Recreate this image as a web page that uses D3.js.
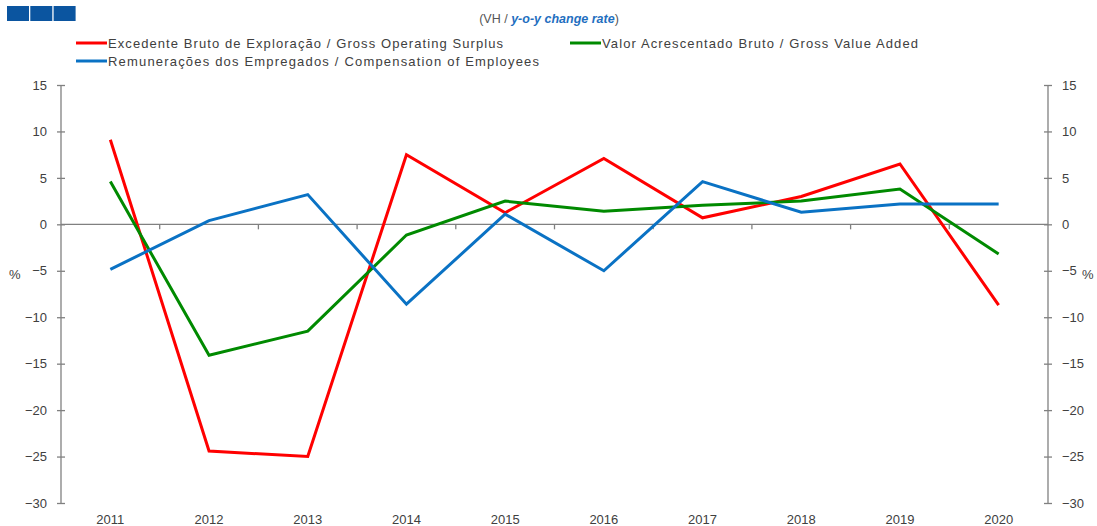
<!DOCTYPE html>
<html>
<head>
<meta charset="utf-8">
<script src="https://cdn.jsdelivr.net/npm/d3@7"></script>
<style>
  html, body { margin: 0; padding: 0; background: #fff; }
  svg { display: block; font-family: "Liberation Sans", Arial, sans-serif; }
</style>
</head>
<body>
<svg id="chart" width="1097" height="526"></svg>
<script>
const years = ["2011","2012","2013","2014","2015","2016","2017","2018","2019","2020"];
const surplus = [9.1, -24.4, -25.0, 7.5, 1.25, 7.1, 0.7, 3.0, 6.5, -8.7];
const gva = [4.6, -14.1, -11.5, -1.15, 2.5, 1.4, 2.05, 2.5, 3.8, -3.2];
const compensation = [-4.85, 0.4, 3.2, -8.6, 1.1, -5.0, 4.6, 1.3, 2.2, 2.2];
const yTicks = [15, 10, 5, 0, -5, -10, -15, -20, -25, -30];
const seriesNames = [
  "Excedente Bruto de Exploração / Gross Operating Surplus",
  "Valor Acrescentado Bruto / Gross Value Added",
  "Remunerações dos Empregados / Compensation of Employees"
];

(function () {
const svg = d3.select("#chart");
const mLeft = 61, mRight = 1048, mTop = 85, mBottom = 503;
const axisColor = "#808080", textColor = "#404040";

const x = d3.scaleBand().domain(years).range([mLeft, mRight]).padding(0);
const y = d3.scaleLinear().domain([-30, 15]).range([mBottom, mTop]);

// header squares
svg.append("g").selectAll("rect").data([0,1,2]).join("rect")
  .attr("x", d => 7 + d * 23.3).attr("y", 6).attr("width", 22).attr("height", 15)
  .attr("fill", "#0b55a0");

// subtitle
const sub = svg.append("text").attr("x", 549).attr("y", 23).attr("text-anchor", "middle")
  .attr("font-size", 12.5).attr("fill", "#555");
sub.append("tspan").text("(VH / ");
sub.append("tspan").attr("font-weight", "bold").attr("font-style", "italic").attr("fill", "#1f6fbf").text("y-o-y change rate");
sub.append("tspan").text(")");

// left axis
const gl = svg.append("g").attr("transform", `translate(${mLeft},0)`)
  .call(d3.axisLeft(y).tickValues(yTicks).tickSize(4).tickPadding(10));
gl.selectAll(".tick line").attr("x1", -4).attr("x2", 4);
// right axis
const gr = svg.append("g").attr("transform", `translate(${mRight},0)`)
  .call(d3.axisRight(y).tickValues(yTicks).tickSize(4).tickPadding(10));
gr.selectAll(".tick line").attr("x1", -4).attr("x2", 4);
[gl, gr].forEach(g => {
  g.select(".domain").attr("stroke", axisColor).attr("stroke-width", 1.3)
    .attr("d", `M0,${mTop}V${mBottom}`);
  g.selectAll(".tick line").attr("stroke", axisColor).attr("stroke-width", 1.3);
  g.selectAll(".tick text").attr("fill", textColor).attr("font-size", 13)
    .attr("font-family", "'Liberation Sans', Arial, sans-serif");
});

// zero line with category boundary ticks
const gx = svg.append("g").attr("transform", `translate(0,${y(0)})`)
  .call(d3.axisBottom(x).tickSize(0).tickFormat(""));
gx.select(".domain").attr("stroke", axisColor).attr("stroke-width", 1.3)
  .attr("d", `M${mLeft},0H${mRight}`);
svg.append("g").selectAll("line").data(years.slice(1)).join("line")
  .attr("x1", d => x(d)).attr("x2", d => x(d))
  .attr("y1", y(0)).attr("y2", y(0) + 5)
  .attr("stroke", axisColor).attr("stroke-width", 1.3);

// year labels
svg.append("g").selectAll("text").data(years).join("text")
  .attr("x", d => x(d) + x.bandwidth() / 2).attr("y", 524)
  .attr("text-anchor", "middle").attr("font-size", 13).attr("fill", textColor)
  .text(d => d);

// % labels
svg.append("text").attr("x", 9).attr("y", 279).attr("font-size", 13).attr("fill", textColor).text("%");
svg.append("text").attr("x", 1082).attr("y", 279).attr("font-size", 13).attr("fill", textColor).text("%");

// lines
const line = d3.line().x((d, i) => x(years[i]) + x.bandwidth() / 2).y(d => y(d));
const series = [
  { values: surplus, color: "#ff0000" },
  { values: gva, color: "#008a00" },
  { values: compensation, color: "#0a72c4" }
];
series.forEach(s => {
  svg.append("path").datum(s.values).attr("d", line)
    .attr("fill", "none").attr("stroke", s.color).attr("stroke-width", 3)
    .attr("stroke-linejoin", "miter");
});

// legend
const legend = [
  { name: seriesNames[0], color: "#ff0000", x: 76, y: 43, len: 395 },
  { name: seriesNames[1], color: "#008a00", x: 570, y: 43, len: 316 },
  { name: seriesNames[2], color: "#0a72c4", x: 76, y: 61, len: 431 }
];
const lg = svg.append("g");
legend.forEach(l => {
  lg.append("line").attr("x1", l.x).attr("x2", l.x + 31).attr("y1", l.y).attr("y2", l.y)
    .attr("stroke", l.color).attr("stroke-width", 3);
  lg.append("text").attr("x", l.x + 32).attr("y", l.y + 4.5)
    .attr("font-size", 13).attr("fill", textColor)
    .attr("textLength", l.len).attr("lengthAdjust", "spacing")
    .text(l.name);
});
})();
</script>
</body>
</html>
